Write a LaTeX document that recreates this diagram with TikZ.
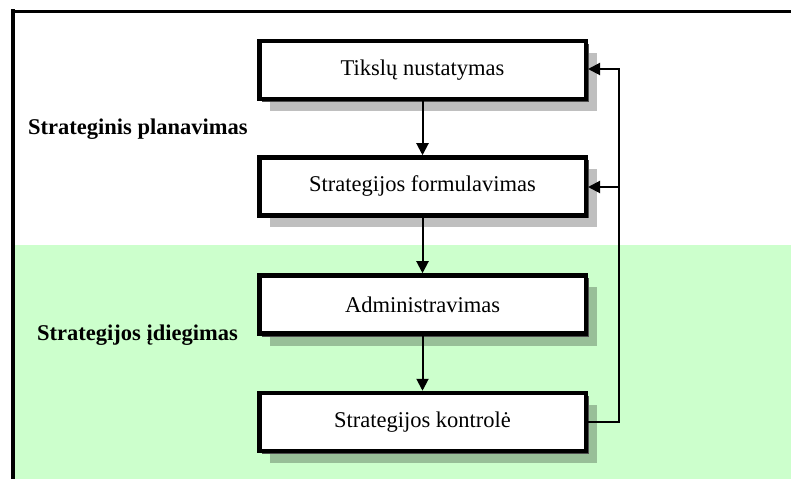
\documentclass[tikz,border=0pt]{standalone}
\usepackage{fontspec}
\setmainfont{Liberation Serif}
\usetikzlibrary{arrows.meta,shadows}
\definecolor{paleGreen}{HTML}{CCFFCC}
\begin{document}
\begin{tikzpicture}[x=1bp,y=-1bp,
  procbox/.style={draw=black, line width=4.5bp, fill=white,
    minimum width=326.5bp, minimum height=58bp, inner sep=0pt,
    font=\fontsize{22.5bp}{27bp}\selectfont,
    general shadow={fill=black, opacity=0.25, shadow xshift=11bp, shadow yshift=-12bp},
    general shadow={fill=black!70, shadow xshift=3bp, shadow yshift=-3bp}},
  lbl/.style={font=\bfseries\fontsize{22.5bp}{27bp}\selectfont, anchor=west, inner sep=0pt},
  flow/.style={line width=2bp, -{Triangle[length=12bp,width=12bp]}}]
\useasboundingbox (0,0) rectangle (791,479);
\fill[paleGreen] (13,245) rectangle (791,479);
\draw[line width=4bp] (13,9.5) -- (13,479);
\draw[line width=3bp] (11,11.5) -- (791,11.5);

\node[lbl] (plan) at (28,129) {Strateginis planavimas};
\node[lbl] (impl) at (37,335) {Strategijos įdiegimas};

\node[procbox] (b1) at (422.5,70) {Tikslų nustatymas};
\node[procbox] (b2) at (422.5,186.5) {Strategijos formulavimas};
\node[procbox] (b3) at (422.5,304.5) {Administravimas};
\node[procbox] (b4) at (422.5,422) {Strategijos kontrolė};

\draw[flow] (b1.south) -- (b2.north);
\draw[flow] (b2.south) -- (b3.north);
\draw[flow] (b3.south) -- (b4.north);

\coordinate (fbTop) at (619,69);
\coordinate (fbMid) at (619,187);
\coordinate (fbBot) at (619,422);
\draw[flow] (b4.east) -- (fbBot) -- (fbTop) -- (b1.east |- fbTop);
\draw[flow] (fbMid) -- (b2.east |- fbMid);
\end{tikzpicture}
\end{document}
